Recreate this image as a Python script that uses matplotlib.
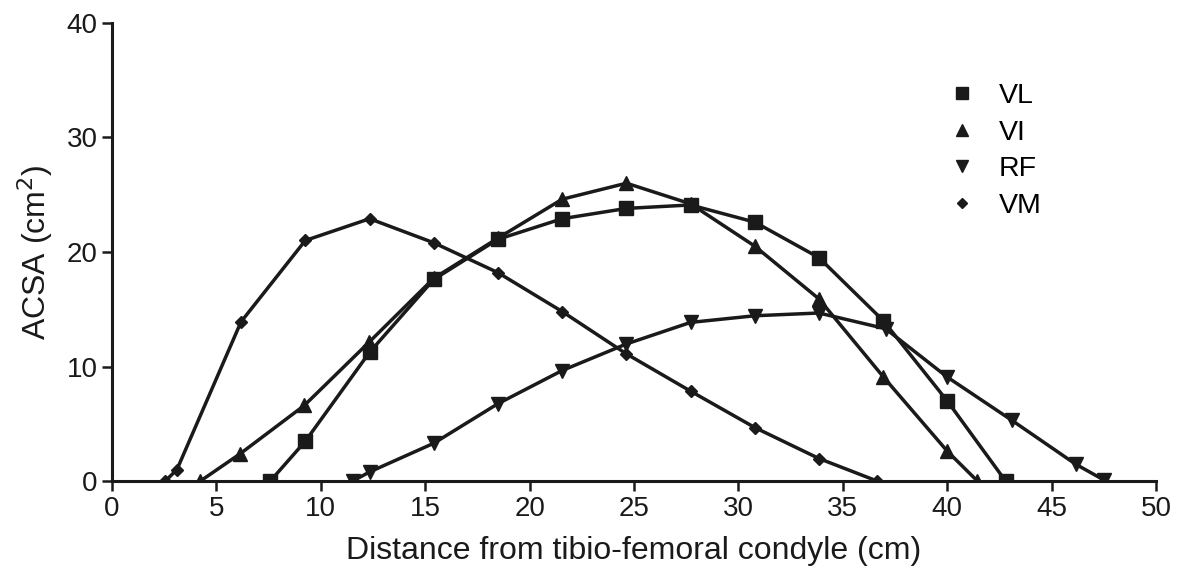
import matplotlib.pyplot as plt
import numpy as np

plt.rcParams["font.family"] = ["Liberation Sans", "DejaVu Sans"]

vm_x = [2.55, 3.11, 6.18, 9.26, 12.34, 15.41, 18.48, 21.56, 24.64, 27.71, 30.79, 33.86, 36.65]
vm_y = [0, 1.0, 13.9, 21.0, 22.9, 20.8, 18.2, 14.8, 11.1, 7.85, 4.67, 1.97, 0]

vl_x = [7.58, 9.26, 12.34, 15.41, 18.48, 21.56, 24.64, 27.71, 30.79, 33.86, 36.94, 40.01, 42.8]
vl_y = [0, 3.48, 11.25, 17.6, 21.1, 22.9, 23.8, 24.1, 22.6, 19.5, 14.0, 6.98, 0]

vi_x = [4.23, 6.15, 9.21, 12.3, 15.41, 18.48, 21.56, 24.64, 27.71, 30.79, 33.86, 36.94, 40.01, 41.45]
vi_y = [0, 2.4, 6.6, 12.1, 17.7, 21.2, 24.6, 26.0, 24.2, 20.5, 15.9, 9.1, 2.6, 0]

rf_x = [11.53, 12.34, 15.41, 18.48, 21.56, 24.64, 27.71, 30.79, 33.86, 37.05, 40.01, 43.1, 46.15, 47.5]
rf_y = [0, 0.8, 3.3, 6.75, 9.65, 11.97, 13.85, 14.43, 14.67, 13.3, 9.07, 5.3, 1.48, 0.1]

col = "#1a1a1a"
fig = plt.figure(figsize=(11.85, 5.7), dpi=100)
ax = fig.add_axes([0.0945, 0.156, 0.881, 0.804])

ax.plot(vl_x, vl_y, color=col, lw=2.5, marker="s", ms=10, label="VL")
ax.plot(vi_x, vi_y, color=col, lw=2.5, marker="^", ms=9.5, label="VI")
ax.plot(rf_x, rf_y, color=col, lw=2.5, marker="v", ms=9.5, label="RF")
ax.plot(vm_x, vm_y, color=col, lw=2.5, marker="D", ms=6.5, label="VM")

ax.set_xlim(0, 50)
ax.set_ylim(0, 40)
ax.set_xticks(np.arange(0, 51, 5))
ax.set_yticks(np.arange(0, 41, 10))
for s in ["top", "right"]:
    ax.spines[s].set_visible(False)
for s in ["left", "bottom"]:
    ax.spines[s].set_linewidth(2.2)
    ax.spines[s].set_color(col)
ax.tick_params(width=1.8, length=7, labelsize=20, color=col, labelcolor=col)
ax.set_xlabel("Distance from tibio-femoral condyle (cm)", fontsize=23, color=col, labelpad=10)
ax.set_ylabel("ACSA (cm$^2$)", fontsize=23, color=col, labelpad=8)

leg = ax.legend(loc="upper right", bbox_to_anchor=(0.915, 0.925), frameon=False,
                fontsize=20.5, handlelength=0.8, handletextpad=0.9, labelspacing=0.38,
                markerscale=0.85)
for h in leg.get_lines():
    h.set_linestyle("none")

fig.savefig("out.png", dpi=100)
